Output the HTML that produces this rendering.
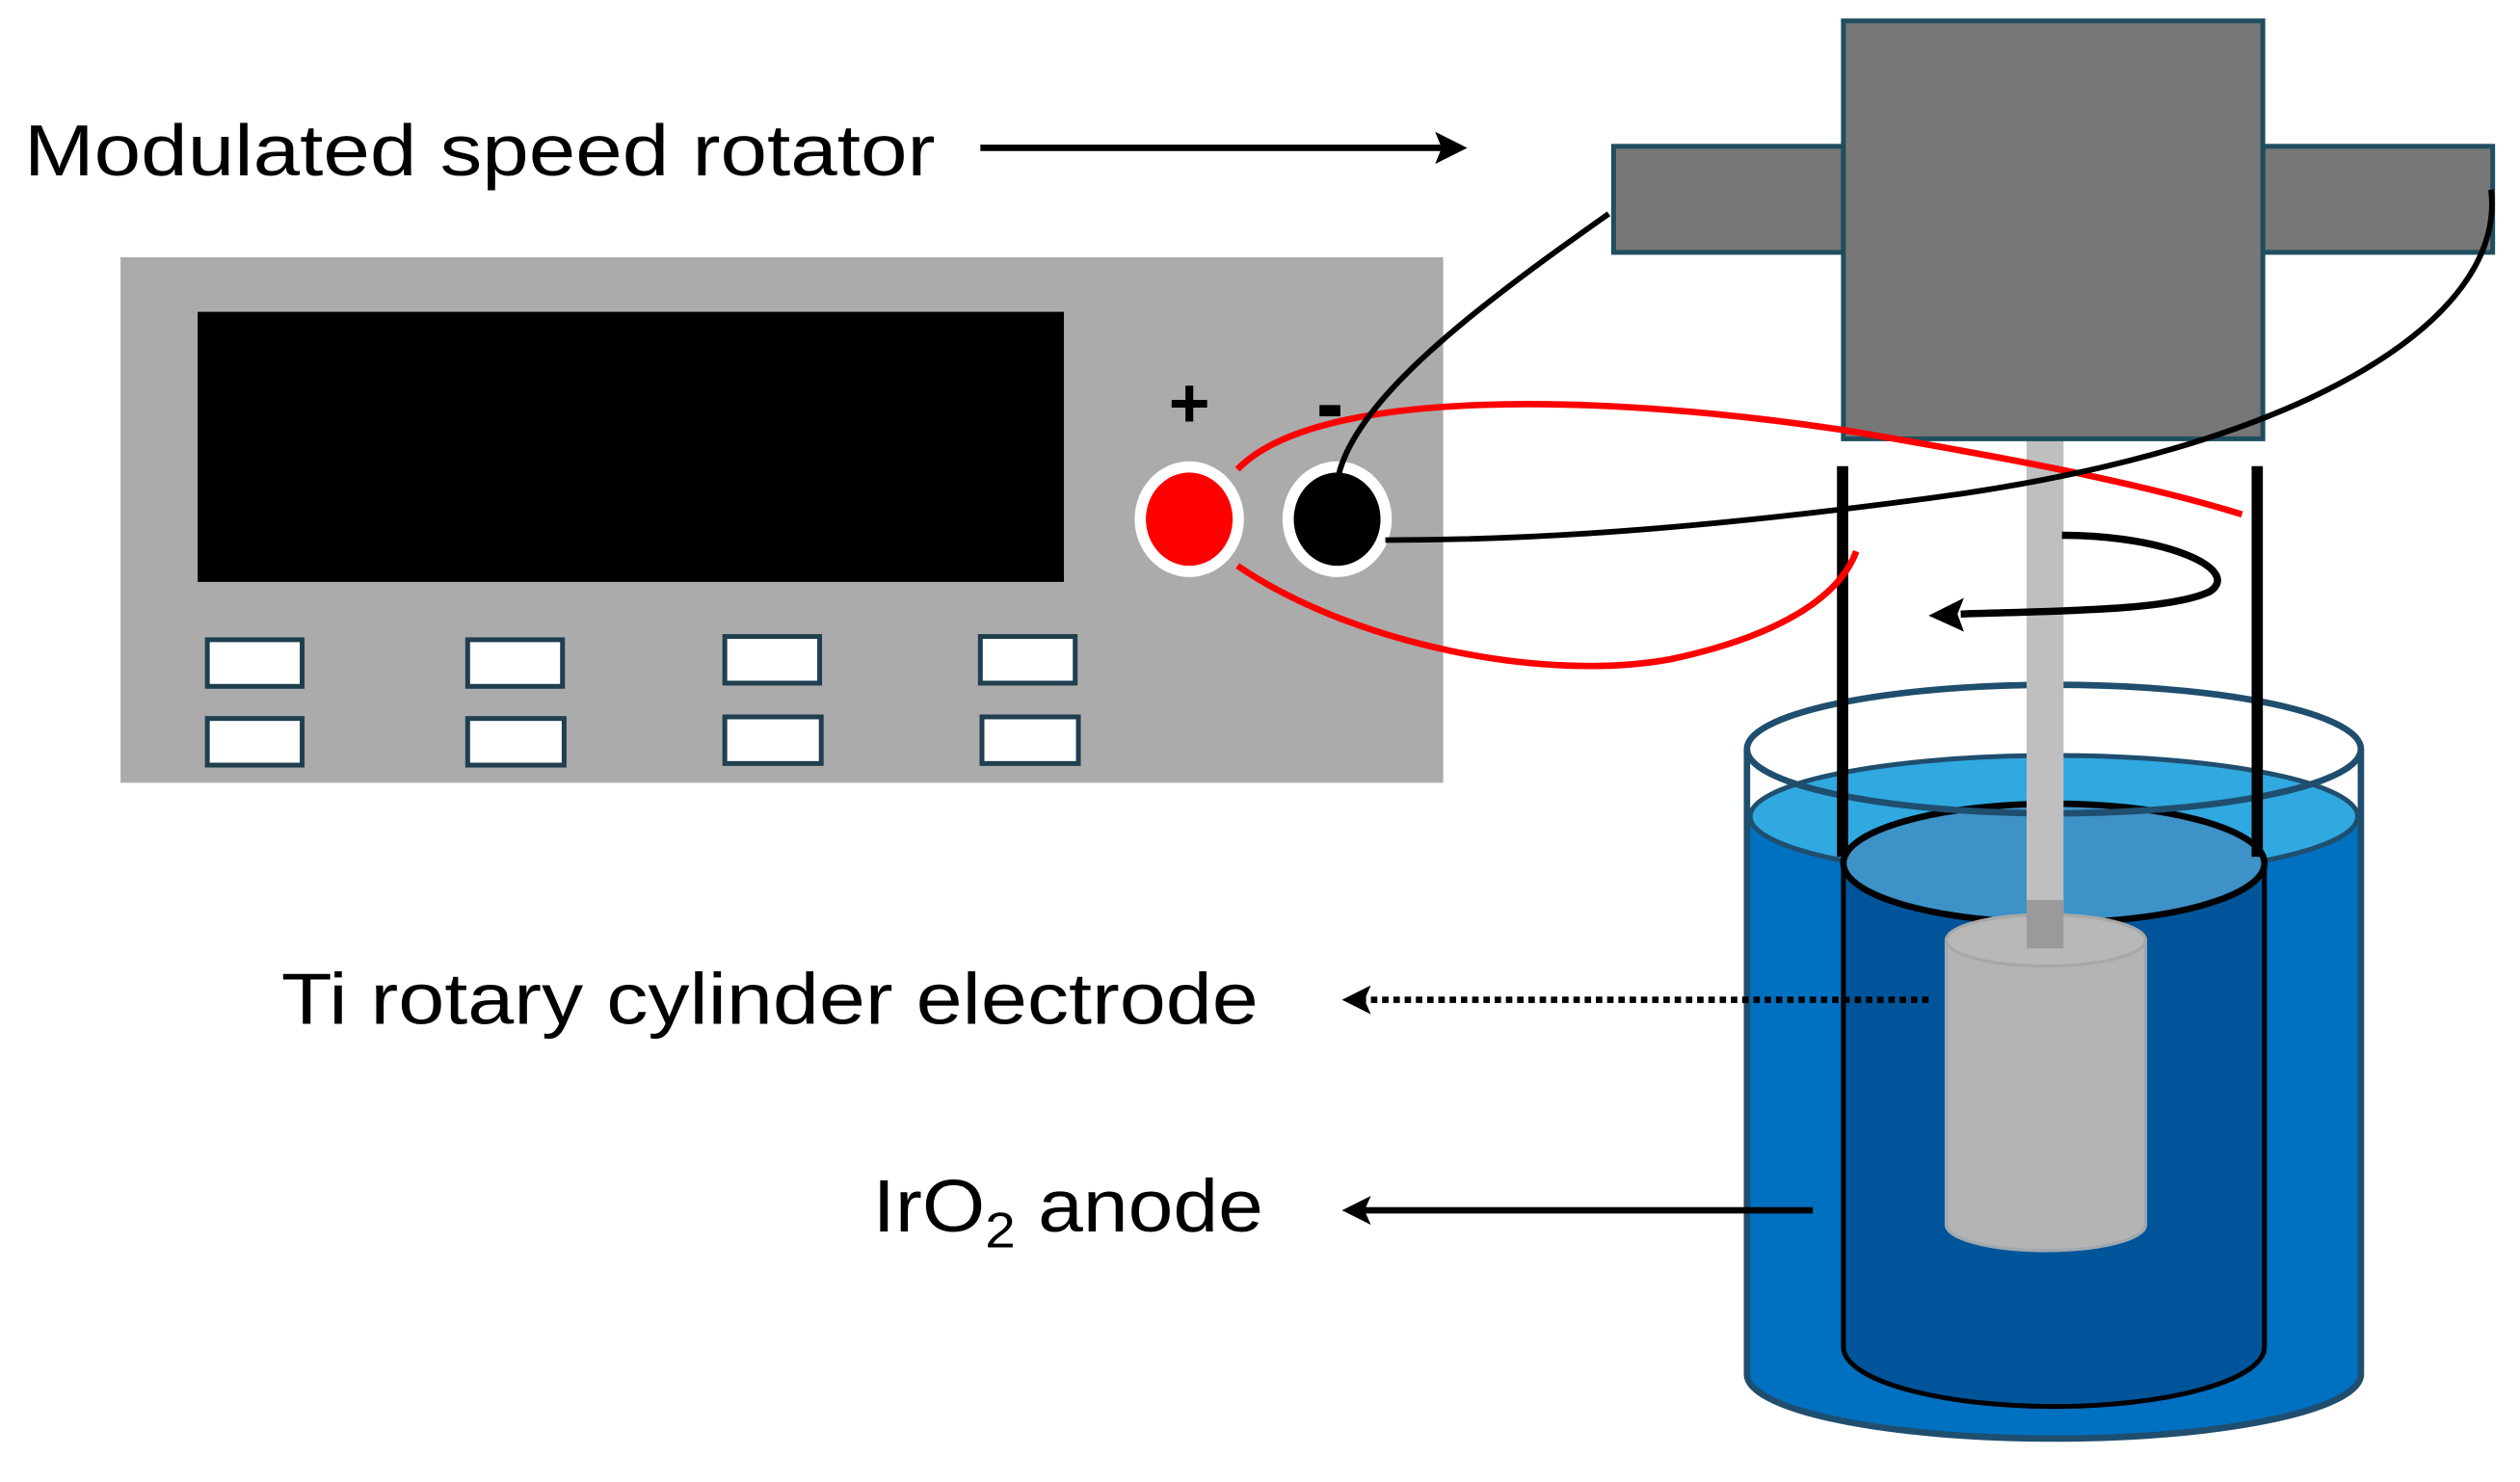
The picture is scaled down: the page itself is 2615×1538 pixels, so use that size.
<!DOCTYPE html>
<html><head><meta charset="utf-8"><style>html,body{margin:0;padding:0;background:#fff}svg{display:block}</style></head>
<body>
<svg width="2615" height="1538" viewBox="0 0 1568 922" preserveAspectRatio="none" xmlns="http://www.w3.org/2000/svg" font-family="Liberation Sans, sans-serif">
<rect width="1568" height="922" fill="#fff"/>
<!-- labels -->
<text x="15" y="109" font-size="45" textLength="567" lengthAdjust="spacingAndGlyphs" fill="#000">Modulated speed rotator</text>
<line x1="610" y1="92" x2="900" y2="92" stroke="#000" stroke-width="4"/>
<path d="M913,92 L893,82 L897,92 L893,102 Z" fill="#000"/>
<text x="175" y="637" font-size="45" textLength="608" lengthAdjust="spacingAndGlyphs" fill="#000">Ti rotary cylinder electrode</text>
<text x="543" y="766" font-size="46" fill="#000" textLength="243" lengthAdjust="spacingAndGlyphs">IrO<tspan font-size="31" dy="10">2</tspan><tspan dy="-10"> anode</tspan></text>
<!-- power supply -->
<rect x="75" y="160" width="823" height="327" fill="#ababab"/>
<rect x="123" y="194" width="539" height="168" fill="#000"/>
<g fill="#fff" stroke="#1f3f4f" stroke-width="3">
<rect x="129" y="398" width="59" height="29"/><rect x="291" y="398" width="59" height="29"/><rect x="451" y="396" width="59" height="29"/><rect x="610" y="396" width="59" height="29"/>
<rect x="129" y="447" width="59" height="29"/><rect x="291" y="447" width="60" height="29"/><rect x="451" y="446" width="60" height="29"/><rect x="611" y="446" width="60" height="29"/>
</g>
<text x="740" y="266" font-size="44" font-weight="bold" text-anchor="middle">+</text>
<rect x="821" y="252" width="13" height="7" fill="#000"/>
<ellipse cx="740" cy="323" rx="34" ry="36" fill="#fff"/>
<ellipse cx="740" cy="323" rx="27" ry="29" fill="#f00"/>
<ellipse cx="832" cy="323" rx="34" ry="36" fill="#fff"/>
<ellipse cx="832" cy="323" rx="27" ry="29" fill="#000"/>
<!-- beaker -->
<path d="M1087,508 L1087,855 A191,40 0 0 0 1469,855 L1469,508 Z" fill="#0070c0"/>
<path d="M1087,466 L1087,855 A191,40 0 0 0 1469,855 L1469,466" fill="none" stroke="#1f4e6e" stroke-width="4"/>
<ellipse cx="1278" cy="508" rx="189" ry="38" fill="#30a8e0" stroke="#1f4e6e" stroke-width="3"/>
<path d="M1147,537 L1147,838 A131,37 0 0 0 1409,838 L1409,537 Z" fill="#00559a" stroke="#000" stroke-width="3"/>
<ellipse cx="1278" cy="537" rx="131" ry="37" fill="#3d92c8" stroke="#000" stroke-width="4"/>
<ellipse cx="1278" cy="466" rx="191" ry="40" fill="none" stroke="#1f4e6e" stroke-width="4"/>
<!-- Ti cylinder -->
<path d="M1211,585 L1211,762 A62,16 0 0 0 1335,762 L1335,585 Z" fill="#b4b4b4" stroke="#a0a8b0" stroke-width="2"/>
<ellipse cx="1273" cy="585" rx="62" ry="16" fill="#b8b8b8" stroke="#a8a8a8" stroke-width="2"/>
<!-- shaft -->
<rect x="1261" y="273" width="23" height="300" fill="#bfbfbf"/>
<rect x="1261" y="560" width="23" height="30" fill="#9a9a9a"/>
<!-- label pointers -->
<line x1="1200" y1="622" x2="848" y2="622" stroke="#000" stroke-width="4" stroke-dasharray="4,3"/>
<path d="M835,622 L853,613 L849,622 L853,631 Z" fill="#000"/>
<line x1="1128" y1="753" x2="848" y2="753" stroke="#000" stroke-width="4"/>
<path d="M835,753 L853,744 L849,753 L853,762 Z" fill="#000"/>
<!-- vertical bars -->
<rect x="1143" y="290" width="7" height="243" fill="#000"/>
<rect x="1401" y="290" width="7" height="243" fill="#000"/>
<!-- rotator -->
<rect x="1004" y="91" width="143" height="66" fill="#777" stroke="#1f4e5f" stroke-width="3"/>
<rect x="1408" y="91" width="143" height="66" fill="#777" stroke="#1f4e5f" stroke-width="3"/>
<rect x="1147" y="13" width="261" height="260" fill="#777" stroke="#1f4e5f" stroke-width="3"/>
<!-- wires -->
<path d="M770,292 C820,240 1000,245 1150,268 C1250,285 1330,300 1395,320" fill="none" stroke="#f00" stroke-width="4"/>
<path d="M770,352 C840,400 960,425 1040,410 C1110,395 1145,370 1155,343" fill="none" stroke="#f00" stroke-width="4"/>
<path d="M1001,133 C920,190 840,250 832,300" fill="none" stroke="#000" stroke-width="3.5"/>
<path d="M1550,118 C1560,200 1430,280 1200,310 C1050,330 950,336 862,336" fill="none" stroke="#000" stroke-width="3.5"/>
<path d="M1283,333 C1350,333 1395,355 1375,368 C1350,380 1280,380 1220,382" fill="none" stroke="#000" stroke-width="4.5"/>
<path d="M1200,383 L1222,372 L1218,382 L1222,393 Z" fill="#000"/>
</svg>
</body></html>
